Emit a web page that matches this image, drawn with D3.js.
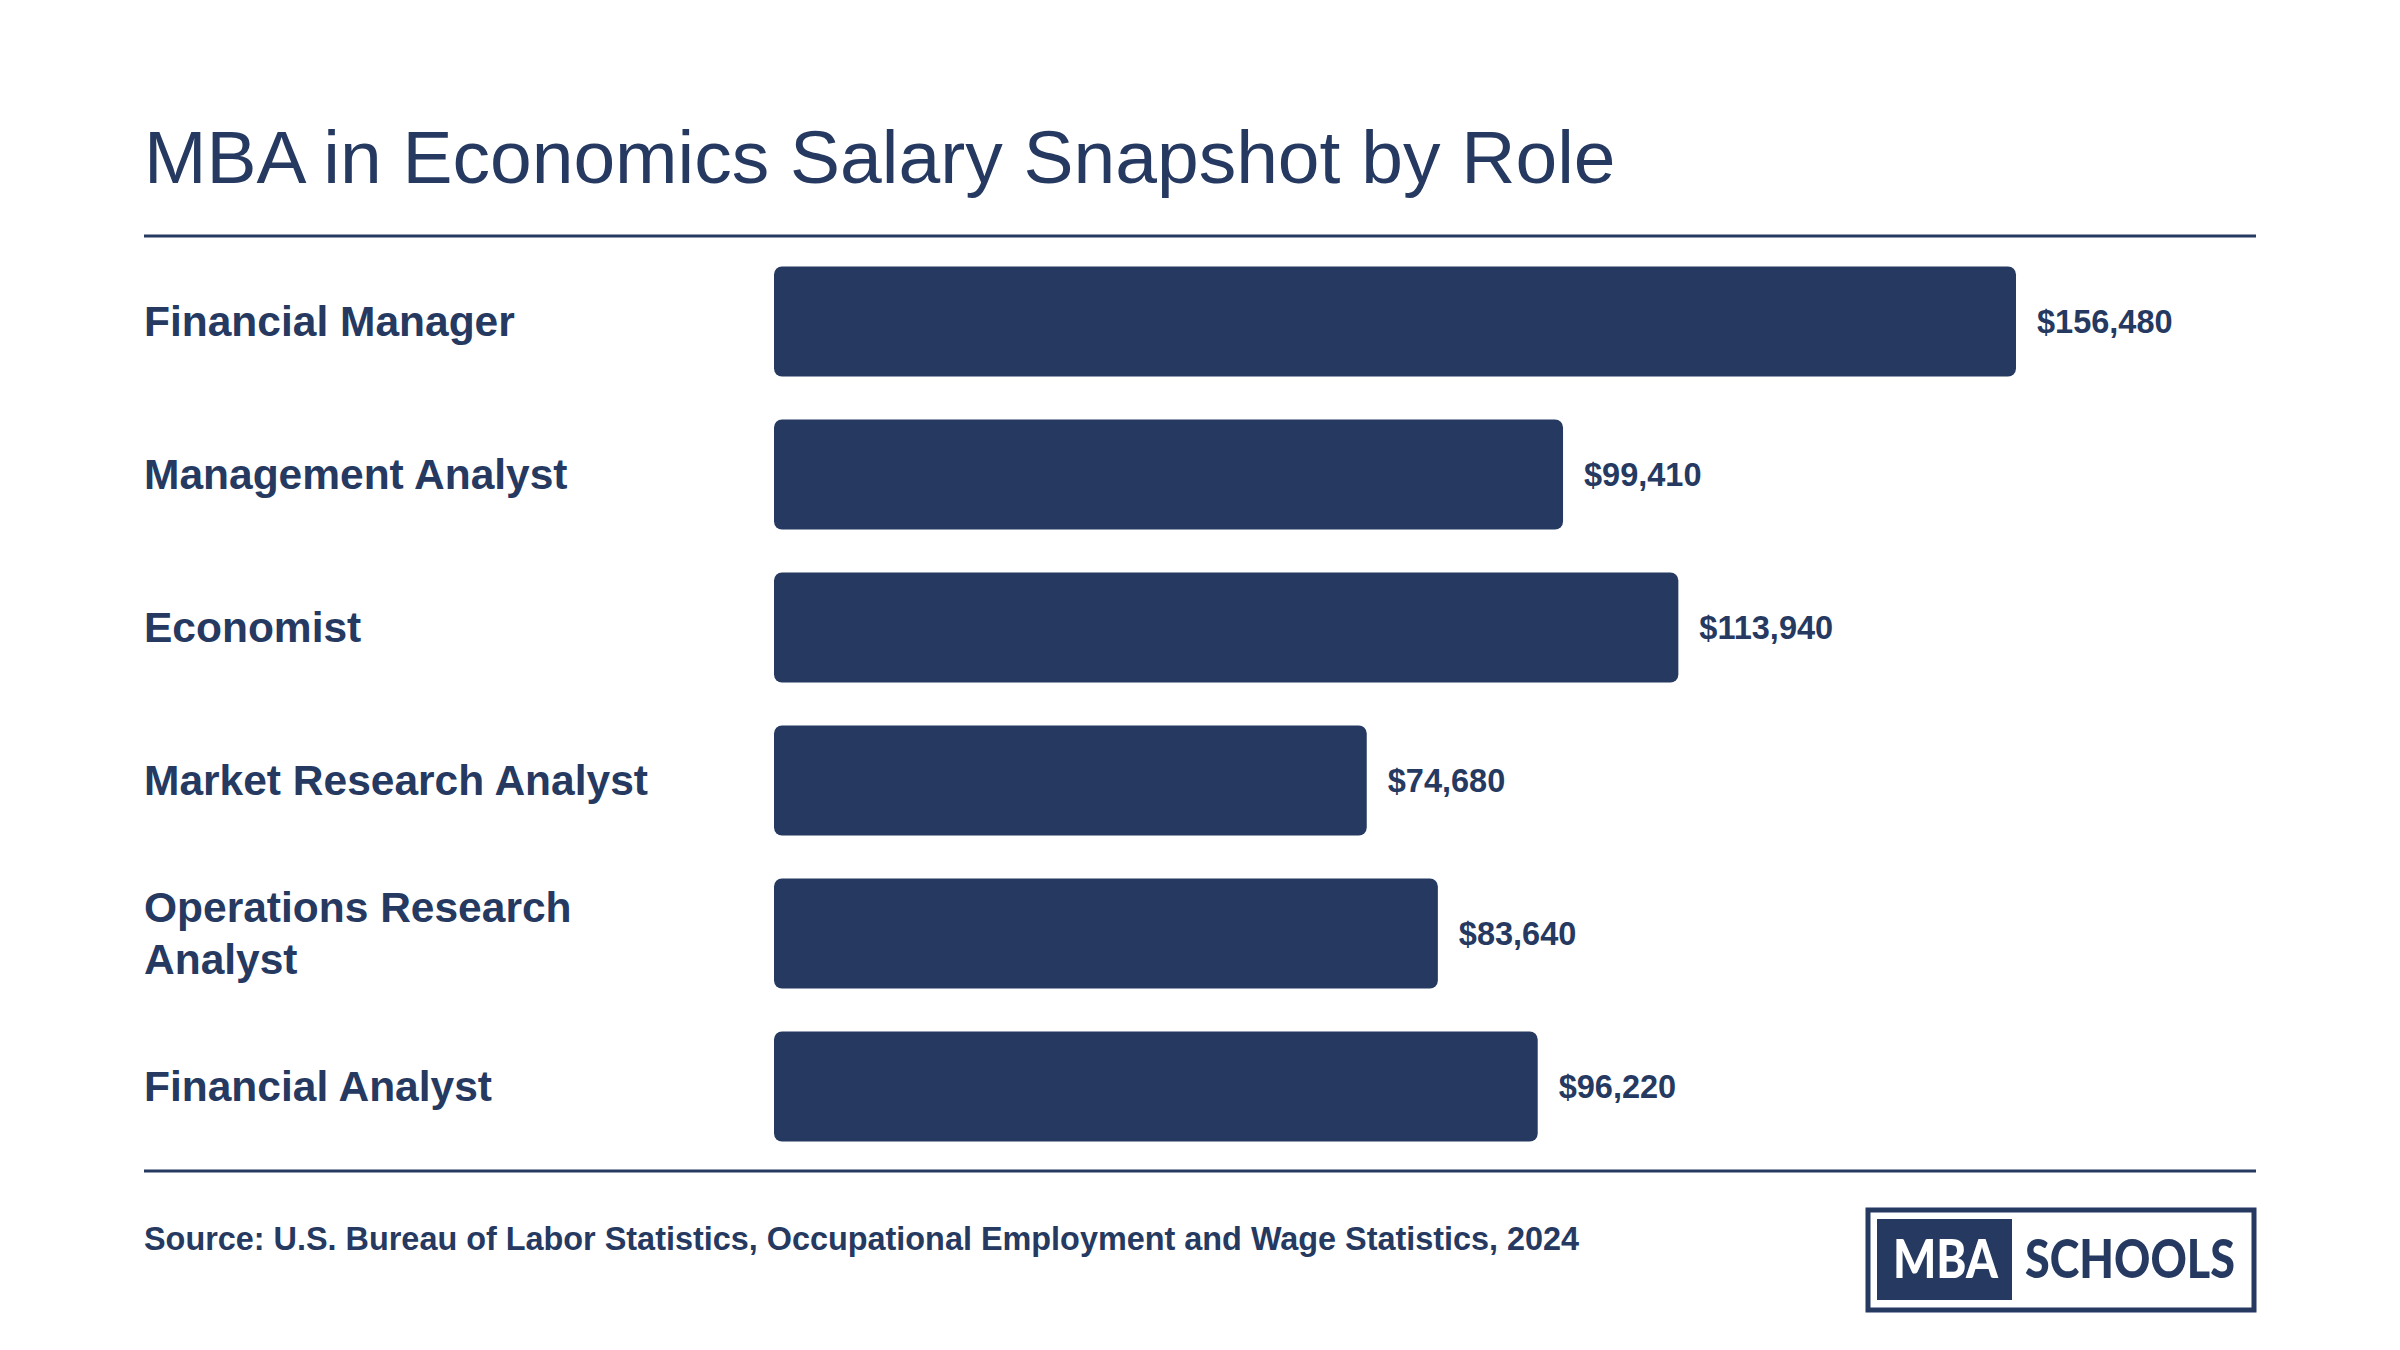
<!DOCTYPE html>
<html>
<head>
<meta charset="utf-8">
<script src="https://cdn.jsdelivr.net/npm/d3@7"></script>
<style>
  body { margin: 0; background: #fff; }
  text { font-family: "Liberation Sans", Arial, Helvetica, sans-serif; }
</style>
</head>
<body>
<script>
// chart values
const roles = ["Financial Manager", "Management Analyst", "Economist",
  "Market Research Analyst", "Operations Research Analyst", "Financial Analyst"];
const salaries = [156480, 99410, 113940, 74680, 83640, 96220];

const title = "MBA in Economics Salary Snapshot by Role";
const source = "Source: U.S. Bureau of Labor Statistics, Occupational Employment and Wage Statistics, 2024";

const navy = "#253961";
const W = 2400, H = 1350;

const svg = d3.select("body").append("svg")
  .attr("width", W)
  .attr("height", H);

svg.append("rect").attr("width", W).attr("height", H).attr("fill", "#fff");

// title + rules
svg.append("text")
  .attr("x", 144).attr("y", 183)
  .attr("font-size", 75)
  .attr("fill", navy)
  .text(title);

svg.append("line")
  .attr("x1", 144).attr("x2", 2256)
  .attr("y1", 236).attr("y2", 236)
  .attr("stroke", navy).attr("stroke-width", 3);

svg.append("line")
  .attr("x1", 144).attr("x2", 2256)
  .attr("y1", 1171).attr("y2", 1171)
  .attr("stroke", navy).attr("stroke-width", 3);

// scales
const x = d3.scaleLinear()
  .domain([0, d3.max(salaries)])
  .range([774, 2016]);

const y = d3.scaleBand()
  .domain(roles)
  .range([245, 1163])
  .paddingInner(0.28)
  .paddingOuter(0.14);

const rows = roles.map((r, i) => ({ role: r, value: salaries[i] }));

// bars
svg.selectAll("rect.bar")
  .data(rows)
  .enter()
  .append("rect")
  .attr("class", "bar")
  .attr("x", x(0))
  .attr("y", d => y(d.role))
  .attr("width", d => x(d.value) - x(0))
  .attr("height", y.bandwidth())
  .attr("rx", 8)
  .attr("fill", navy);

// value labels
const fmt = d3.format("$,");
svg.selectAll("text.val")
  .data(rows)
  .enter()
  .append("text")
  .attr("class", "val")
  .attr("x", d => x(d.value) + 21)
  .attr("y", d => y(d.role) + y.bandwidth() / 2)
  .attr("dy", "0.35em")
  .attr("font-size", 32.5)
  .attr("font-weight", "bold")
  .attr("fill", navy)
  .text(d => fmt(d.value));

// category labels, wrapped when too wide
const labels = svg.selectAll("text.cat")
  .data(rows)
  .enter()
  .append("text")
  .attr("class", "cat")
  .attr("x", 144)
  .attr("font-size", 42.5)
  .attr("font-weight", "bold")
  .attr("fill", navy);

labels.each(function (d) {
  const t = d3.select(this);
  const words = d.role.split(" ");
  let lines = [], line = [];
  words.forEach(w => {
    line.push(w);
    t.text(line.join(" "));
    if (this.getComputedTextLength() > 580 && line.length > 1) {
      line.pop();
      lines.push(line.join(" "));
      line = [w];
    }
  });
  lines.push(line.join(" "));
  t.text(null);
  const lh = 52;
  const cy = y(d.role) + y.bandwidth() / 2;
  lines.forEach((l, i) => {
    t.append("tspan")
      .attr("x", 144)
      .attr("y", cy + (i - (lines.length - 1) / 2) * lh)
      .attr("dy", "0.35em")
      .text(l);
  });
});

// source note
svg.append("text")
  .attr("x", 144).attr("y", 1250)
  .attr("font-size", 32.4)
  .attr("font-weight", "bold")
  .attr("fill", navy)
  .text(source);

// logo
const logo = svg.append("g");
logo.append("rect")
  .attr("x", 1868).attr("y", 1210)
  .attr("width", 386).attr("height", 100)
  .attr("fill", "none")
  .attr("stroke", navy).attr("stroke-width", 5);
logo.append("rect")
  .attr("x", 1877).attr("y", 1219)
  .attr("width", 135).attr("height", 81)
  .attr("fill", navy);
logo.append("text")
  .attr("x", 1893).attr("y", 1278)
  .attr("font-size", 54)
  .attr("font-weight", 900)
  .attr("fill", "#fff")
  .attr("textLength", 105)
  .attr("lengthAdjust", "spacingAndGlyphs")
  .style("font-family", "Lato, 'Open Sans', sans-serif")
  .text("MBA");
logo.append("text")
  .attr("x", 2025).attr("y", 1278)
  .attr("font-size", 54)
  .attr("font-weight", 900)
  .attr("fill", navy)
  .attr("textLength", 210)
  .attr("lengthAdjust", "spacingAndGlyphs")
  .style("font-family", "Lato, 'Open Sans', sans-serif")
  .text("SCHOOLS");
</script>
</body>
</html>
